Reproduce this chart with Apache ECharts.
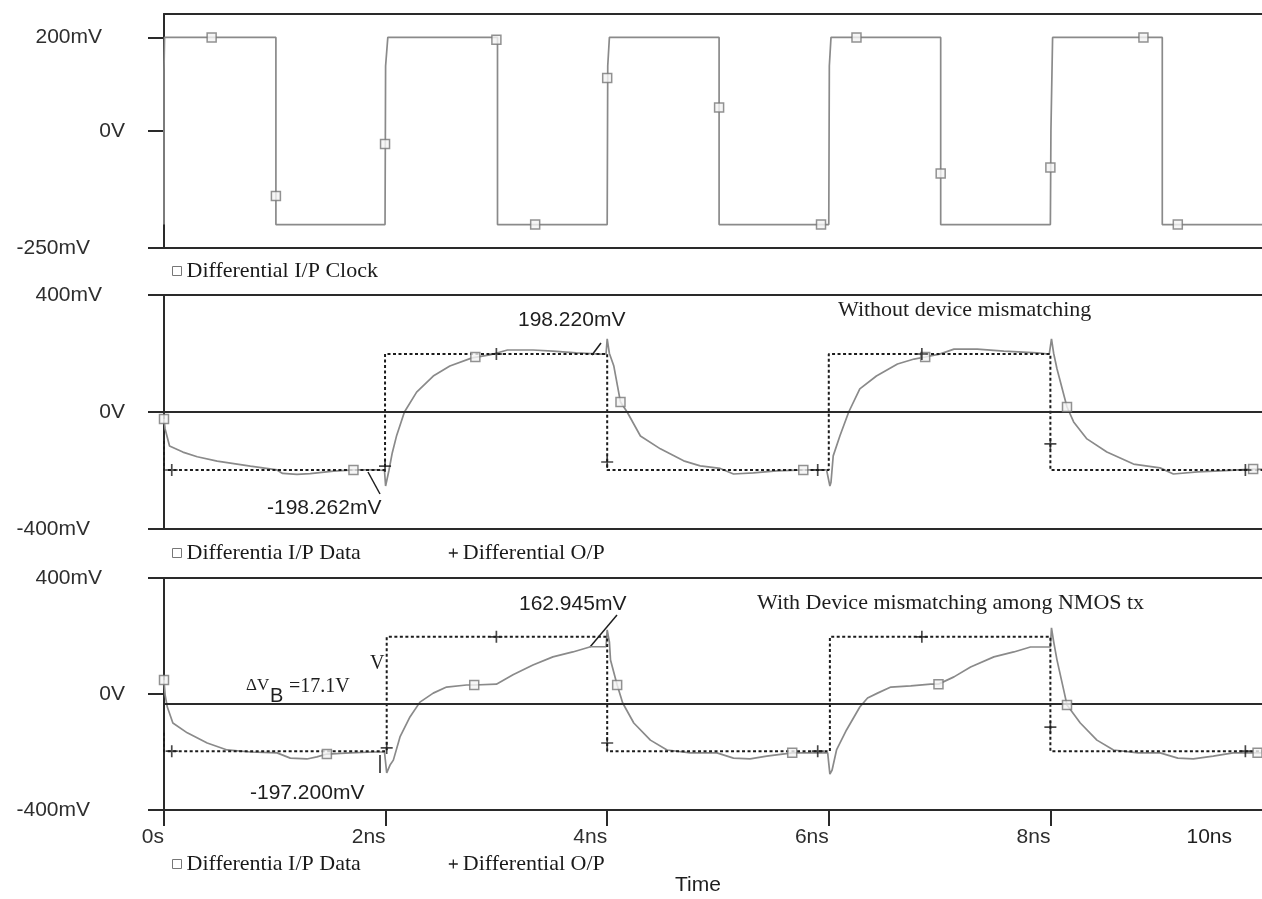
<!DOCTYPE html>
<html>
<head>
<meta charset="utf-8">
<script src="https://cdn.jsdelivr.net/npm/echarts@6/dist/echarts.min.js"></script>
<style>
  html, body { margin: 0; padding: 0; background: #ffffff; }
  #chart { width: 1262px; height: 899px; }
</style>
</head>
<body>
<div id="chart"></div>
<script>
// ---- axis ranges and tick labels ----
const timeEnd = 9.91;                       // ns, right edge of the plots
const timeTicks = [0, 2, 4, 6, 8, 10];      // ns
const clockTicks = [-250, 0, 200];          // mV
const dataTicks = [-400, 0, 400];           // mV

// ---- top panel: differential clock [ns, mV] ----
const clockWave = [
  [0, -200], [0, 128], [0.005, 200],
  [1.01, 200], [1.01, -200],
  [1.995, -200], [2.0, 139], [2.02, 200],
  [3.01, 200], [3.01, -200],
  [4.0, -200], [4.005, 139], [4.02, 200],
  [5.01, 200], [5.01, -200],
  [6.0, -200], [6.005, 139], [6.02, 200],
  [7.01, 200], [7.01, -200],
  [8.0, -200], [8.005, 0], [8.02, 200],
  [9.01, 200], [9.01, -200],
  [9.91, -200]
];
const clockMarks = [
  [0.43, 200], [1.01, -139], [1.995, -28], [3.0, 195], [3.35, -200], [4.0, 113],
  [5.01, 50], [5.93, -200], [6.25, 200], [7.01, -91], [8.0, -78], [8.84, 200], [9.15, -200]
];

// ---- middle panel: without device mismatching ----
const dataIn1 = [
  [0, -24], [0.01, -58], [0.05, -116], [0.17, -137], [0.3, -153], [0.48, -168], [0.78, -185],
  [1.02, -198], [1.07, -210], [1.2, -213], [1.32, -211], [1.53, -202], [1.71, -198], [1.92, -198],
  [1.99, -200], [2.0, -253], [2.03, -200], [2.06, -140], [2.1, -80], [2.17, 0], [2.28, 68],
  [2.43, 123], [2.58, 157], [2.78, 185], [2.94, 195], [3.1, 212], [3.33, 212], [3.51, 208],
  [3.72, 202], [3.94, 198], [3.99, 199], [4.0, 250], [4.02, 200], [4.06, 157], [4.12, 34],
  [4.18, 0], [4.3, -82], [4.48, -126], [4.69, -167], [4.84, -184], [5.02, -193], [5.14, -212],
  [5.32, -208], [5.53, -201], [5.77, -198], [5.98, -198], [6.01, -253], [6.02, -240],
  [6.04, -150], [6.1, -82], [6.18, 0], [6.28, 79], [6.43, 123], [6.62, 164], [6.77, 181],
  [6.87, 188], [7.0, 198], [7.13, 215], [7.34, 215], [7.58, 208], [7.88, 202], [7.99, 198],
  [8.01, 250], [8.03, 200], [8.06, 147], [8.15, 17], [8.21, -34], [8.33, -92], [8.51, -137],
  [8.75, -178], [8.99, -191], [9.11, -212], [9.33, -205], [9.53, -201], [9.83, -195], [9.91, -196]
];
const dataInMarks1 = [
  [0, -24], [1.71, -198], [2.81, 188], [4.12, 34], [5.77, -198], [6.87, 188], [8.15, 17], [9.83, -195]
];
const dataOut1 = [
  [0, -99], [0, -198.262], [1.995, -198.262], [1.995, 198.22], [4.0, 198.22], [4.0, -198.262],
  [6.0, -198.262], [6.0, 198.22], [8.0, 198.22], [8.0, -198.262], [9.91, -198.262]
];
const dataOutMarks1 = [
  [0.07, -198.262], [1.995, -185], [3.0, 198.22], [4.0, -171], [5.9, -198.262],
  [6.84, 198.22], [8.0, -109], [9.76, -198.262]
];

// ---- bottom panel: with device mismatching among NMOS tx ----
const dataIn2 = [
  [0, 48], [0.01, -3], [0.03, -45], [0.08, -100], [0.21, -134], [0.39, -169], [0.57, -193],
  [0.78, -200], [1.02, -203], [1.14, -221], [1.29, -224], [1.38, -217], [1.47, -207], [1.68, -203],
  [1.89, -200], [1.99, -200], [2.01, -272], [2.04, -245], [2.07, -228], [2.13, -148], [2.22, -79],
  [2.31, -28], [2.43, 3], [2.55, 24], [2.73, 31], [2.8, 31], [3.0, 34], [3.15, 66], [3.33, 100],
  [3.51, 128], [3.69, 145], [3.85, 162.945], [3.99, 162.945], [4.0, 221], [4.02, 180], [4.03, 117],
  [4.09, 31], [4.14, -31], [4.24, -100], [4.39, -159], [4.54, -193], [4.75, -203], [4.99, -203],
  [5.14, -221], [5.29, -224], [5.44, -214], [5.67, -203], [5.99, -203], [6.01, -276], [6.03, -262],
  [6.07, -193], [6.16, -124], [6.28, -45], [6.35, -14], [6.44, 3], [6.56, 24], [6.74, 28],
  [6.92, 34], [6.99, 34], [7.13, 59], [7.28, 93], [7.49, 128], [7.67, 145], [7.82, 162],
  [8.0, 162], [8.01, 228], [8.03, 180], [8.06, 117], [8.12, 14], [8.15, -38], [8.27, -100],
  [8.42, -159], [8.57, -193], [8.79, -203], [8.99, -203], [9.15, -221], [9.29, -224], [9.47, -214],
  [9.65, -203], [9.87, -203], [9.91, -203]
];
const dataInMarks2 = [
  [0, 48], [1.47, -207], [2.8, 31], [4.09, 31], [5.67, -203], [6.99, 34], [8.15, -38], [9.87, -203]
];
const dataOut2 = [
  [0, -134], [0, -197.2], [2.01, -197.2], [2.01, 197], [4.0, 197], [4.0, -197.2],
  [6.01, -197.2], [6.01, 197], [8.0, 197], [8.0, -197.2], [9.91, -197.2]
];
const dataOutMarks2 = [
  [0.07, -197.2], [2.01, -186], [3.0, 197], [4.0, -169], [5.9, -197.2],
  [6.84, 197], [8.0, -114], [9.76, -197.2]
];
const offsetLevel2 = -34;    // mV, reference level drawn across the bottom panel

// ---- styling ----
const SANS = "'Liberation Sans', Arial, sans-serif";
const SERIF = "'Liberation Serif', 'Times New Roman', serif";
const AXIS = '#2a2a2a';
const TRACE = '#8a8a8a';
const INK = '#1c1c1c';
const PLUS = 'path://M4.3,0H5.7V4.3H10V5.7H5.7V10H4.3V5.7H0V4.3H4.3Z';
const SQUARE = 'path://M0,0H10V10H0Z';

const NAME_CLK = 'Differential I/P Clock';
const NAME_IN = 'Differentia I/P Data';
const NAME_OUT = 'Differential O/P';

function timeLabel(v) { return v === 0 ? '0s' : v + 'ns'; }
function voltLabel(v) {
  if (v === 0) return '{z|0V}';
  return (v > 0 ? '{p|' : '{n|') + v + 'mV}';
}
const labelFont = { fontFamily: SANS, fontSize: 21, color: '#2e2e2e' };

const grids = [
  { left: 164, right: 0, top: 14, height: 234 },
  { left: 164, right: 0, top: 295, height: 234 },
  { left: 164, right: 0, top: 578, height: 232 }
];

function timeAxis(gridIndex, position, withLabels) {
  return {
    type: 'value', gridIndex, position, min: 0, max: timeEnd,
    axisLine: { show: true, onZero: false, lineStyle: { color: AXIS, width: 2 } },
    axisTick: {
      show: withLabels, customValues: timeTicks.filter(v => v <= timeEnd),
      length: 16, lineStyle: { color: AXIS, width: 2 }
    },
    axisLabel: {
      show: withLabels, customValues: timeTicks.filter(v => v <= timeEnd),
      formatter: timeLabel, align: 'right', margin: 17, ...labelFont
    },
    splitLine: { show: false }
  };
}

function voltAxis(gridIndex, min, max, ticks) {
  return {
    type: 'value', gridIndex, min, max,
    axisLine: { show: true, onZero: false, lineStyle: { color: AXIS, width: 2 } },
    axisTick: { show: true, customValues: ticks, length: 16, lineStyle: { color: AXIS, width: 2 } },
    axisLabel: {
      customValues: ticks, formatter: voltLabel, margin: 39, ...labelFont,
      rich: {
        z: { ...labelFont },
        p: { ...labelFont, padding: [0, 23, 0, 0] },
        n: { ...labelFont, padding: [0, 35, 0, 0] }
      }
    },
    splitLine: { show: false }
  };
}

function traceSeries(name, xi, yi, data, dotted) {
  return {
    name, type: 'line', xAxisIndex: xi, yAxisIndex: yi, data,
    showSymbol: false, clip: false, z: dotted ? 4 : 3,
    lineStyle: dotted ? { color: INK, width: 2, type: [3, 2.5] } : { color: TRACE, width: 1.7 },
    itemStyle: { color: dotted ? INK : TRACE }
  };
}
function squareMarks(name, xi, yi, data) {
  return {
    name, type: 'scatter', xAxisIndex: xi, yAxisIndex: yi, data, clip: false, z: 5,
    symbol: 'rect', symbolSize: 9,
    itemStyle: { color: '#f4f4f4', borderColor: '#777777', borderWidth: 1.5 }
  };
}
function plusMarks(name, xi, yi, data) {
  return {
    name, type: 'scatter', xAxisIndex: xi, yAxisIndex: yi, data, clip: false, z: 6,
    symbol: PLUS, symbolSize: 12, itemStyle: { color: INK }
  };
}
function levelLine(value) {
  return {
    silent: true, symbol: 'none', label: { show: false },
    lineStyle: { color: AXIS, width: 2, type: 'solid' },
    data: [{ yAxis: value }]
  };
}

const legendText = { fontFamily: SERIF, fontSize: 22, color: '#1a1a1a', lineHeight: 24 };
const legendIn = { name: NAME_IN, icon: SQUARE, itemStyle: { color: '#ffffff', borderColor: '#777', borderWidth: 1 } };
const legendOut = { name: NAME_OUT, icon: PLUS, itemStyle: { color: INK, borderWidth: 0 } };
function legendAt(top, data) {
  return {
    left: 172, top, padding: 0, itemGap: 88, itemWidth: 9, itemHeight: 9,
    selectedMode: false, textStyle: legendText, data
  };
}

function txt(text, x, y, font, align) {
  return {
    type: 'text', x, y, silent: true,
    style: { text, font, fill: '#1e1e1e', textAlign: align || 'left', textVerticalAlign: 'middle' }
  };
}
function seg(x1, y1, x2, y2) {
  return { type: 'line', silent: true, shape: { x1, y1, x2, y2 }, style: { stroke: '#1e1e1e', lineWidth: 1.5 } };
}

const chart = echarts.init(document.getElementById('chart'));
chart.setOption({
  animation: false,
  backgroundColor: '#ffffff',
  grid: grids,
  xAxis: [
    timeAxis(0, 'bottom', false), timeAxis(0, 'top', false),
    timeAxis(1, 'bottom', false), timeAxis(1, 'top', false),
    timeAxis(2, 'bottom', true), timeAxis(2, 'top', false)
  ],
  yAxis: [
    voltAxis(0, -250, 250, clockTicks),
    voltAxis(1, -400, 400, dataTicks),
    voltAxis(2, -400, 400, dataTicks)
  ],
  legend: [
    legendAt(259, [{ name: NAME_CLK, icon: SQUARE, itemStyle: { color: '#ffffff', borderColor: '#777', borderWidth: 1 } }]),
    legendAt(541, [legendIn, legendOut]),
    legendAt(852, [legendIn, legendOut])
  ],
  series: [
    traceSeries(NAME_CLK, 0, 0, clockWave, false),
    squareMarks(NAME_CLK, 0, 0, clockMarks),

    Object.assign(traceSeries(NAME_OUT, 2, 1, dataOut1, true), { markLine: levelLine(0) }),
    traceSeries(NAME_IN, 2, 1, dataIn1, false),
    squareMarks(NAME_IN, 2, 1, dataInMarks1),
    plusMarks(NAME_OUT, 2, 1, dataOutMarks1),

    Object.assign(traceSeries(NAME_OUT, 4, 2, dataOut2, true), { markLine: levelLine(offsetLevel2) }),
    traceSeries(NAME_IN, 4, 2, dataIn2, false),
    squareMarks(NAME_IN, 4, 2, dataInMarks2),
    plusMarks(NAME_OUT, 4, 2, dataOutMarks2)
  ],
  graphic: [
    txt('Without device mismatching', 838, 310, '22px ' + SERIF),
    txt('198.220mV', 518, 320, '21px ' + SANS),
    seg(592, 355, 601, 343),
    txt('-198.262mV', 267, 508, '21px ' + SANS),
    seg(368, 472, 380, 494),

    txt('With Device mismatching among NMOS tx', 757, 603, '22px ' + SERIF),
    txt('162.945mV', 519, 604, '21px ' + SANS),
    seg(590, 647, 617, 615),
    txt('-197.200mV', 250, 793, '21px ' + SANS),
    seg(380, 755, 380, 773),
    txt('\u0394V', 246, 686, '17px ' + SERIF),
    txt('B', 270, 696, '20px ' + SANS),
    txt('=17.1V', 289, 687, '20px ' + SERIF),
    txt('V', 370, 664, '20px ' + SERIF),

    txt(timeLabel(timeTicks[timeTicks.length - 1]), 1232, 837, '21px ' + SANS, 'right'),
    txt('Time', 698, 885, '21px ' + SANS, 'center')
  ]
});
</script>
</body>
</html>
